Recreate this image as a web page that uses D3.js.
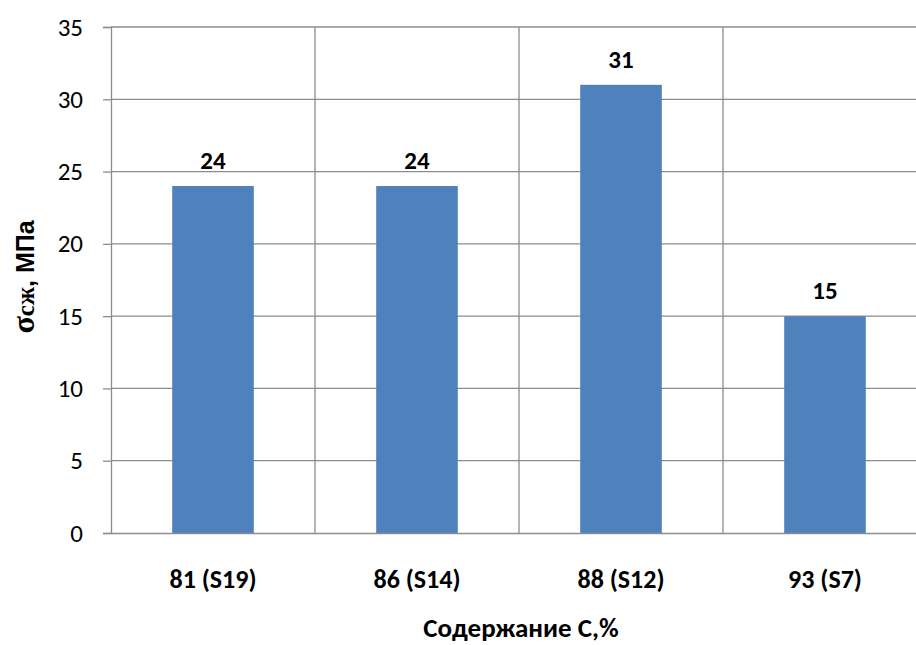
<!DOCTYPE html>
<html><head><meta charset="utf-8">
<script src="https://cdn.jsdelivr.net/npm/d3@7"></script>
<style>body{margin:0;background:#fff}svg{display:block}text{font-family:Carlito,Calibri,Lato,"Open Sans",sans-serif}</style>
</head><body><div id="chart"></div>
<script>
const categories = ["81 (S19)", "86 (S14)", "88 (S12)", "93 (S7)"];
const values = [24, 24, 31, 15];
const yTicks = [0, 5, 10, 15, 20, 25, 30, 35];
const xTitle = "Содержание С,%";

const W = 916, H = 645;
const m = {left: 111, top: 27, right: 927, bottom: 533};
const FONT = "Carlito,Calibri,Lato,sans-serif";
const svg = d3.select("#chart").append("svg").attr("width", W).attr("height", H);

const x = d3.scaleBand().domain(categories).range([m.left, m.right]).paddingInner(0.6).paddingOuter(0.3);
const y = d3.scaleLinear().domain([0, 35]).range([m.bottom, m.top]);
const step = x.step();

// horizontal gridlines
svg.append("g").selectAll("line").data(yTicks.filter(d => d > 0)).join("line")
  .attr("x1", m.left).attr("x2", m.right).attr("y1", d => y(d)).attr("y2", d => y(d))
  .attr("stroke", "#8c8c8c").attr("stroke-width", 1.3);
// vertical gridlines between categories
svg.append("g").selectAll("line").data(categories.slice(1)).join("line")
  .attr("x1", d => x(d) - step * 0.3).attr("x2", d => x(d) - step * 0.3)
  .attr("y1", m.top).attr("y2", m.bottom)
  .attr("stroke", "#8c8c8c").attr("stroke-width", 1.3);

// bars
svg.append("g").selectAll("rect").data(values).join("rect")
  .attr("x", (d, i) => x(categories[i])).attr("width", x.bandwidth())
  .attr("y", d => y(d)).attr("height", d => y(0) - y(d))
  .attr("fill", "#4f81bd");

// y axis
const yAxis = d3.axisLeft(y).tickValues(yTicks).tickSize(8).tickPadding(20).tickFormat(d3.format("d"));
const ga = svg.append("g").attr("transform", `translate(${m.left},0)`).call(yAxis);
ga.attr("font-size", null).attr("font-family", null);
ga.select(".domain").attr("stroke", "#8c8c8c").attr("stroke-width", 1.3);
ga.selectAll(".tick line").attr("stroke", "#8c8c8c").attr("stroke-width", 1.3);
ga.selectAll(".tick text").style("font-size", "25px").attr("fill", "#000").style("font-family", FONT);

// x axis
const xAxis = d3.axisBottom(x).tickSize(0).tickPadding(0);
const gx = svg.append("g").attr("transform", `translate(0,${m.bottom})`).call(xAxis);
gx.attr("font-size", null).attr("font-family", null);
gx.select(".domain").attr("stroke", "#8c8c8c").attr("stroke-width", 1.5);
gx.selectAll(".tick text").attr("y", 55).attr("dy", 0).style("font-size", "26px").attr("font-weight", "bold").attr("fill", "#000").style("font-family", FONT);

// value labels
svg.append("g").selectAll("text").data(values).join("text")
  .attr("x", (d, i) => x(categories[i]) + x.bandwidth() / 2)
  .attr("y", d => y(d) - 17)
  .attr("text-anchor", "middle").style("font-size", "25px").attr("font-weight", "bold")
  .text(d => d);

// x title
svg.append("text").attr("x", 521).attr("y", 637).attr("text-anchor", "middle")
  .style("font-size", "27px").attr("font-weight", "bold").text(xTitle);

// y title
const yt = svg.append("text").attr("transform", "translate(34,277) rotate(-90)")
  .attr("text-anchor", "middle").attr("font-weight", "bold").style("font-size", "25px")
  .style("font-family", "'Liberation Sans',Arial,sans-serif");
yt.append("tspan").style("font-family", "'Liberation Serif','DejaVu Serif',serif").style("font-size", "32px").style("font-weight", "bold").text("σ");
yt.append("tspan").style("font-family", "'Liberation Serif','DejaVu Serif',serif").style("font-size", "25px").style("font-weight", "bold").text("сж");
yt.append("tspan").text(", МПа");
</script></body></html>
